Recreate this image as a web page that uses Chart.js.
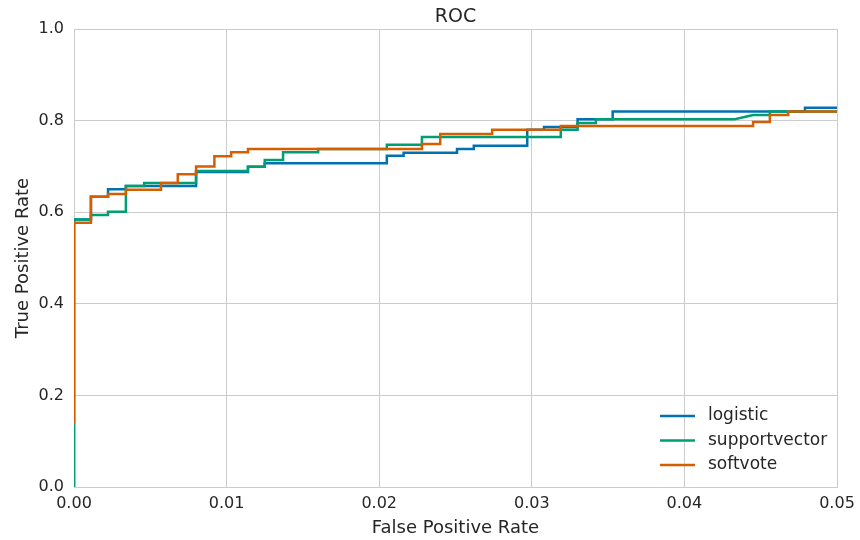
<!DOCTYPE html>
<html>
<head>
<meta charset="utf-8">
<script src="https://cdn.jsdelivr.net/npm/chart.js@4/dist/chart.umd.min.js"></script>
<style>
  html, body { margin: 0; padding: 0; background: #fff; }
</style>
</head>
<body>
<canvas id="rocChart" width="860" height="540"></canvas>
<script>

// ===============================
// DATA
// ===============================

const seriesNames = ["logistic", "supportvector", "softvote"];
const seriesColors = ["#0072B2", "#009E73", "#D55E00"];

const xTicks = [0.00, 0.01, 0.02, 0.03, 0.04, 0.05];
const yTicks = [0.0, 0.2, 0.4, 0.6, 0.8, 1.0];

const logisticFpr = [0, 0, 0.00111, 0.00111, 0.00223, 0.00223, 0.0034, 0.0034, 0.0080, 0.0080, 0.0114, 0.0114, 0.0125, 0.0125, 0.0205, 0.0205, 0.0216, 0.0216, 0.0251, 0.0251, 0.0262, 0.0262, 0.0297, 0.0297, 0.0308, 0.0308, 0.0330, 0.0330, 0.0353, 0.0353, 0.0479, 0.0479, 0.05];
const logisticTpr = [0, 0.584, 0.584, 0.634, 0.634, 0.650, 0.650, 0.657, 0.657, 0.688, 0.688, 0.699, 0.699, 0.707, 0.707, 0.723, 0.723, 0.730, 0.730, 0.738, 0.738, 0.745, 0.745, 0.780, 0.780, 0.786, 0.786, 0.803, 0.803, 0.820, 0.820, 0.828, 0.828];

const svmFpr = [0, 0, 0.00111, 0.00111, 0.00223, 0.00223, 0.0034, 0.0034, 0.0046, 0.0046, 0.0080, 0.0080, 0.0114, 0.0114, 0.0125, 0.0125, 0.0137, 0.0137, 0.0160, 0.0160, 0.0205, 0.0205, 0.0228, 0.0228, 0.0319, 0.0319, 0.0330, 0.0330, 0.0342, 0.0342, 0.0433, 0.0445, 0.0456, 0.0456, 0.05];
const svmTpr = [0, 0.584, 0.584, 0.594, 0.594, 0.601, 0.601, 0.657, 0.657, 0.664, 0.664, 0.690, 0.690, 0.699, 0.699, 0.714, 0.714, 0.731, 0.731, 0.738, 0.738, 0.747, 0.747, 0.764, 0.764, 0.780, 0.780, 0.795, 0.795, 0.803, 0.803, 0.812, 0.812, 0.820, 0.820];

const softvoteFpr = [0, 0, 0.00111, 0.00111, 0.00223, 0.00223, 0.0034, 0.0034, 0.0057, 0.0057, 0.0068, 0.0068, 0.0080, 0.0080, 0.0092, 0.0092, 0.0103, 0.0103, 0.0114, 0.0114, 0.0228, 0.0228, 0.0240, 0.0240, 0.0274, 0.0274, 0.0319, 0.0319, 0.0445, 0.0445, 0.0456, 0.0456, 0.0468, 0.0468, 0.05];
const softvoteTpr = [0.14, 0.577, 0.577, 0.634, 0.634, 0.640, 0.640, 0.649, 0.649, 0.664, 0.664, 0.683, 0.683, 0.700, 0.700, 0.722, 0.722, 0.731, 0.731, 0.738, 0.738, 0.749, 0.749, 0.771, 0.771, 0.780, 0.780, 0.788, 0.788, 0.797, 0.797, 0.812, 0.812, 0.820, 0.820];

const allFpr = [logisticFpr, svmFpr, softvoteFpr];
const allTpr = [logisticTpr, svmTpr, softvoteTpr];

// ===============================
// LEGEND (inside, lower right)
// ===============================

const innerLegend = {
  id: "innerLegend",
  afterDatasetsDraw(chart) {
    const ctx = chart.ctx;
    const area = chart.chartArea;
    ctx.save();
    ctx.font = "17px 'DejaVu Sans'";
    ctx.textBaseline = "middle";
    chart.data.datasets.forEach((ds, i) => {
      const y = area.bottom - 71 + i * 24.5;
      const x = area.right - 177;
      ctx.strokeStyle = ds.borderColor;
      ctx.lineWidth = 2.5;
      ctx.beginPath();
      ctx.moveTo(x, y);
      ctx.lineTo(x + 35, y);
      ctx.stroke();
      ctx.fillStyle = "#262626";
      ctx.fillText(ds.label, x + 48, y);
    });
    ctx.restore();
  }
};

// title drawn by hand so the plot top stays at y=29
const plotTitle = {
  id: "plotTitle",
  afterDraw(chart) {
    const ctx = chart.ctx;
    const area = chart.chartArea;
    ctx.save();
    ctx.font = "19px 'DejaVu Sans'";
    ctx.fillStyle = "#262626";
    ctx.textAlign = "center";
    ctx.textBaseline = "middle";
    ctx.fillText("ROC", (area.left + area.right) / 2, 17);
    ctx.restore();
  }
};

// ===============================
// CHART
// ===============================

const datasets = seriesNames.map((name, i) => ({
  label: name,
  data: allFpr[i].map((x, j) => ({ x: x, y: allTpr[i][j] })),
  borderColor: seriesColors[i],
  backgroundColor: seriesColors[i],
  borderWidth: 2.5,
  pointRadius: 0,
  showLine: true,
  tension: 0,
  fill: false,
  clip: 0,
  order: seriesNames.length - 1 - i   // last series on top, like the picture
}));

new Chart(document.getElementById("rocChart"), {
  type: "scatter",
  data: { datasets: datasets },
  plugins: [innerLegend, plotTitle],
  options: {
    responsive: false,
    animation: false,
    layout: { padding: { top: 29, right: 23, left: 0, bottom: 0 } },
    plugins: {
      legend: { display: false },
      tooltip: { enabled: false }
    },
    scales: {
      x: {
        type: "linear",
        min: 0,
        max: 0.05,
        afterFit: s => { s.height = 53; s.paddingLeft = 0; s.paddingRight = 0; },
        afterBuildTicks: s => { s.ticks = xTicks.map(v => ({ value: v })); },
        grid: { color: "#cccccc", lineWidth: 1, drawTicks: false },
        border: { color: "#cccccc" },
        ticks: {
          padding: 7,
          color: "#262626",
          font: { family: "DejaVu Sans", size: 16 },
          callback: v => v.toFixed(2)
        },
        title: {
          display: true,
          text: "False Positive Rate",
          color: "#262626",
          font: { family: "DejaVu Sans", size: 18 },
          padding: { top: 0, bottom: 1 }
        }
      },
      y: {
        type: "linear",
        min: 0,
        max: 1,
        afterFit: s => { s.width = 74; s.paddingTop = 0; s.paddingBottom = 0; },
        afterBuildTicks: s => { s.ticks = yTicks.map(v => ({ value: v })); },
        grid: { color: "#cccccc", lineWidth: 1, drawTicks: false },
        border: { color: "#cccccc" },
        ticks: {
          padding: 10,
          color: "#262626",
          font: { family: "DejaVu Sans", size: 16 },
          callback: v => v.toFixed(1)
        },
        title: {
          display: true,
          text: "True Positive Rate",
          color: "#262626",
          font: { family: "DejaVu Sans", size: 18 },
          padding: { top: 13, bottom: 0 }
        }
      }
    }
  }
});
</script>
</body>
</html>
